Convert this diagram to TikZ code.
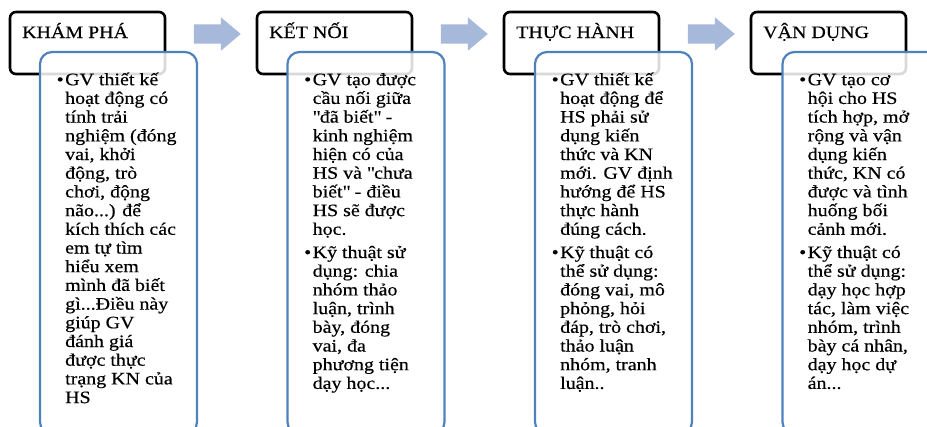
\documentclass[tikz,border=0pt]{standalone}
\usepackage{fontspec}
\setmainfont[FakeStretch=1.14,FakeBold=0.4]{Liberation Serif}
\usepackage{xcolor}
\usetikzlibrary{shapes.arrows}
\definecolor{stepblue}{RGB}{79,129,189}
\definecolor{arrowblue}{RGB}{167,185,219}
% bullet hanging left of the line, first line held at a fixed height
\newcommand{\bul}{\llap{\textbullet\hspace{1.5pt}}}
\newcommand{\topline}{\rule{0pt}{18pt}}
\newcommand{\qq}{\textquotedbl}
\newcommand{\tightlines}{\lineskiplimit=-30pt\relax}
\tikzset{%
    headbox/.style={draw=black, line width=2.6pt, rounded corners=6pt},
    notebox/.style={draw=stepblue, line width=2.2pt, rounded corners=12pt,
        fill=white, fill opacity=0.85},
    headtext/.style={anchor=base west, inner sep=0pt,
        font=\fontsize{17.5}{20}\selectfont},
    notetext/.style={anchor=north west, inner sep=0pt, align=left,
        font=\fontsize{17.5}{18.7}\selectfont\tightlines},
    flowarrow/.style={single arrow, fill=arrowblue, draw=none,
        inner xsep=0pt, inner ysep=9.5pt,
        minimum width=33pt, minimum height=47pt,
        single arrow head extend=7pt, single arrow tip angle=80}
}

\begin{document}
\begin{tikzpicture}[x=1pt,y=-1pt]
    \clip (0,0) rectangle (927,426);
%    header boxes
    \draw[headbox] (10,12) rectangle (165,74);
    \draw[headbox] (257,12) rectangle (412,74);
    \draw[headbox] (504,12) rectangle (659,74);
    \draw[headbox] (751,12) rectangle (906,74);
    \node[headtext] (khampha) at (22,38) {KHÁM PHÁ};
    \node[headtext] (ketnoi) at (269,38) {KẾT NỐI};
    \node[headtext] (thuchanh) at (516,38) {THỰC HÀNH};
    \node[headtext] (vandung) at (763,38) {VẬN DỤNG};
%    arrows in between
    \node[flowarrow] (arr1) at (211.5,34) {};
    \node[flowarrow] (arr2) at (458.5,34) {};
    \node[flowarrow] (arr3) at (705.5,34) {};
%    note boxes
    \draw[notebox] (40,52) rectangle (197,434);
    \draw[notebox] (287.5,52) rectangle (444.5,434);
    \draw[notebox] (535,52) rectangle (692,434);
    \draw[notebox] (782.5,52) rectangle (939.5,434);
    \node[notetext] (kpnote) at (65,67) {\topline\bul GV thiết kế\\ hoạt động có\\ tính trải\\
        nghiệm (đóng\\ vai, khởi\\ động, trò\\ chơi, động\\ não...) để\\
        kích thích các\\ em tự tìm\\ hiểu xem\\ mình đã biết\\ gì...Điều này\\
        giúp GV\\ đánh giá\\ được thực\\ trạng KN của\\ HS};
    \node[notetext] (knnote) at (312.5,67) {\topline\bul GV tạo được\\ cầu nối giữa\\
        \qq đã biết\qq{} -\\ kinh nghiệm\\ hiện có của\\ HS và \qq chưa\\ biết\qq{} - điều\\
        HS sẽ được\\ học.\\[4.5pt]
        \bul Kỹ thuật sử\\ dụng: chia\\ nhóm thảo\\ luận, trình\\ bày, đóng\\
        vai, đa\\ phương tiện\\ dạy học...};
    \node[notetext] (thnote) at (560,67) {\topline\bul GV thiết kế\\ hoạt động để\\
        HS phải sử\\ dụng kiến\\ thức và KN\\ mới. GV định\\ hướng để HS\\
        thực hành\\ đúng cách.\\[4.5pt]
        \bul Kỹ thuật có\\ thể sử dụng:\\ đóng vai, mô\\ phỏng, hỏi\\
        đáp, trò chơi,\\ thảo luận\\ nhóm, tranh\\ luận..};
    \node[notetext] (vdnote) at (807.5,67) {\topline\bul GV tạo cơ\\ hội cho HS\\
        tích hợp, mở\\ rộng và vận\\ dụng kiến\\ thức, KN có\\ được và tình\\
        huống bối\\ cảnh mới.\\[4.5pt]
        \bul Kỹ thuật có\\ thể sử dụng:\\ dạy học hợp\\ tác, làm việc\\
        nhóm, trình\\ bày cá nhân,\\ dạy học dự\\ án...};
\end{tikzpicture}
\end{document}
